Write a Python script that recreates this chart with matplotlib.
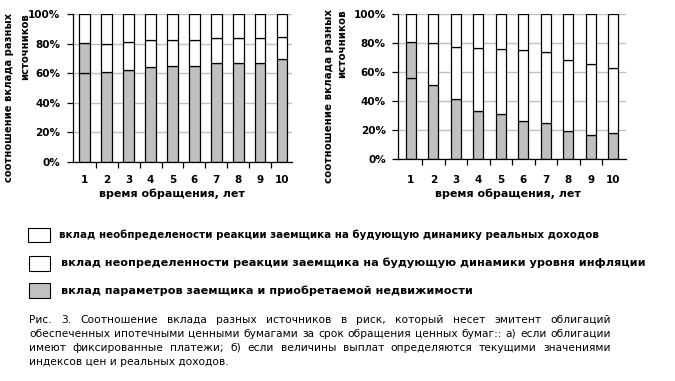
import matplotlib
matplotlib.use("Agg")
import matplotlib.pyplot as plt
from matplotlib.patches import Rectangle
import numpy as np

# ---- data (percent shares) ----
years = list(range(1, 11))
year_labels = [str(y) for y in years]
y_ticks = [0, 20, 40, 60, 80, 100]
y_tick_labels = ["0%", "20%", "40%", "60%", "80%", "100%"]

# a) fixed payments
left_params = [60.0, 61.0, 62.4, 64.5, 65.1, 65.1, 67.2, 67.2, 67.2, 69.9]
left_inflation = [20.2, 19.0, 18.5, 18.0, 17.4, 17.4, 16.4, 16.4, 16.4, 14.4]
# b) indexed payments
right_params = [56.0, 50.9, 41.9, 33.6, 30.9, 26.7, 25.3, 19.8, 17.1, 18.0]
right_inflation = [24.6, 29.1, 35.3, 42.9, 44.9, 48.4, 48.4, 48.4, 48.3, 44.7]

ylabel = "соотношение вклада разных\nисточников"
xlabel = "время обращения, лет"
legend_labels = [
    "вклад необпределености реакции заемщика на будующую динамику реальных доходов",
    "вклад неопределенности реакции заемщика на будующую динамики уровня инфляции",
    "вклад параметров заемщика и приобретаемой недвижимости",
]
caption_lines = [
    "Рис. 3. Соотношение вклада разных источников в риск, который несет эмитент облигаций",
    "обеспеченных ипотечными ценными бумагами  за срок обращения ценных бумаг:: а) если облигации",
    "имеют фиксированные платежи; б) если величины выплат определяются текущими значениями",
    "индексов цен и реальных доходов.",
]

W, H = 675, 381
GRAY = "#c0c0c0"
plt.rcParams["font.family"] = ["DejaVu Sans"]

fig = plt.figure(figsize=(W / 100, H / 100), dpi=100)
renderer = fig.canvas.get_renderer()


def fx(x):
    return x / W


def fy(y):
    return 1 - y / H


def fit_text(x, y, s, length, size=8, vertical=False, **kw):
    """Place text at pixel pos and scale font so its long side is `length` px."""
    t = fig.text(fx(x), fy(y), s, fontsize=size, **kw)
    bb = t.get_window_extent(renderer)
    cur = bb.height if vertical else bb.width
    t.set_fontsize(size * length / cur)
    return t


def draw_chart(rect, params, inflation, xlim, width, tick_pad):
    ax = fig.add_axes(rect)
    params = np.array(params)
    inflation = np.array(inflation)
    income = 100 - params - inflation
    mid_colors = [GRAY] + ["white"] * (len(years) - 1)
    kw = dict(width=width, edgecolor="black", linewidth=0.9, zorder=3)
    ax.bar(years, params, color=GRAY, **kw)
    ax.bar(years, inflation, bottom=params, color=mid_colors, **kw)
    ax.bar(years, income, bottom=params + inflation, color="white", **kw)

    ax.set_xlim(*xlim)
    ax.set_ylim(0, 100)
    ax.set_yticks(y_ticks)
    ax.set_yticklabels(y_tick_labels, fontweight="bold", fontsize=7.5)
    ax.set_xticks(years)
    ax.set_xticklabels(year_labels, fontweight="bold", fontsize=7.5)
    ax.set_xticks([y + 0.5 for y in years[:-1]], minor=True)
    ax.tick_params(axis="x", which="major", length=0, pad=tick_pad)
    ax.tick_params(axis="x", which="minor", length=4, width=0.9, direction="out")
    ax.tick_params(axis="y", length=4, width=0.9, direction="out", pad=5)
    for sp in ("top", "right"):
        ax.spines[sp].set_visible(False)
    for sp in ("left", "bottom"):
        ax.spines[sp].set_linewidth(0.9)
        ax.spines[sp].set_zorder(4)
    ax.yaxis.grid(True, color=GRAY, linewidth=1.0, zorder=0)
    ax.set_axisbelow(True)
    return ax


# axes rectangles from pixel geometry
axL = draw_chart([fx(72.7), fy(161.7), (292 - 72.7) / W, (161.7 - 14.3) / H],
                 left_params, left_inflation, (0.45, 10.45), 0.48, 9.5)
axR = draw_chart([fx(398.3), fy(159.3), (626 - 398.3) / W, (159.3 - 14.3) / H],
                 right_params, right_inflation, (0.44, 10.56), 0.44, 11.5)

# x labels
fig.text(fx(172), fy(194), xlabel, fontsize=8, fontweight="bold", ha="center", va="center")
fig.text(fx(508), fy(194), xlabel, fontsize=8, fontweight="bold", ha="center", va="center")

# y labels (two lines, rotated, lines aligned at the top end)
fit_text(17, 97.5, ylabel, 169, vertical=True, rotation=90, ha="center", va="center",
         multialignment="right", fontweight="bold", linespacing=1.7)
fit_text(335.5, 96, ylabel, 172, vertical=True, rotation=90, ha="center", va="center",
         multialignment="right", fontweight="bold", linespacing=1.5)

# legend
boxes = [(27.5, 228, 22.5, 14), (29, 256, 21, 15), (29, 283, 21, 15)]
box_colors = ["white", "white", GRAY]
text_pos = [(59.3, 235, 539), (61, 263, 581), (61, 290.5, 410)]
for (bx, by, bw, bh), c, (tx, ty, tl), lab in zip(boxes, box_colors, text_pos, legend_labels):
    fig.patches.append(Rectangle((fx(bx), fy(by + bh)), bw / W, bh / H, transform=fig.transFigure,
                                 facecolor=c, edgecolor="black", linewidth=0.8))
    fit_text(tx, ty, lab, tl, ha="left", va="center", fontweight="bold")

# caption, justified between x=29 and x=611 except the last line
cap_x0, cap_x1 = 29, 611
cap_y = [320, 334, 348, 362]
# font size chosen so the tightest line (the 2nd) nearly fills the width
probe = fit_text(0, 0, caption_lines[1], cap_x1 - cap_x0 - 6)
cap_size = probe.get_fontsize()
probe.remove()
for i, (line, yy) in enumerate(zip(caption_lines, cap_y)):
    if i == len(caption_lines) - 1:
        fig.text(fx(cap_x0), fy(yy), line, fontsize=cap_size, ha="left", va="center")
        continue
    words = line.split()
    texts = [fig.text(0, fy(yy), w, fontsize=cap_size, ha="left", va="center") for w in words]
    widths = [t.get_window_extent(renderer).width for t in texts]
    gap = (cap_x1 - cap_x0 - sum(widths)) / (len(words) - 1)
    x = cap_x0
    for t, w in zip(texts, widths):
        t.set_x(fx(x))
        x += w + gap

fig.savefig("out.png", dpi=100)
